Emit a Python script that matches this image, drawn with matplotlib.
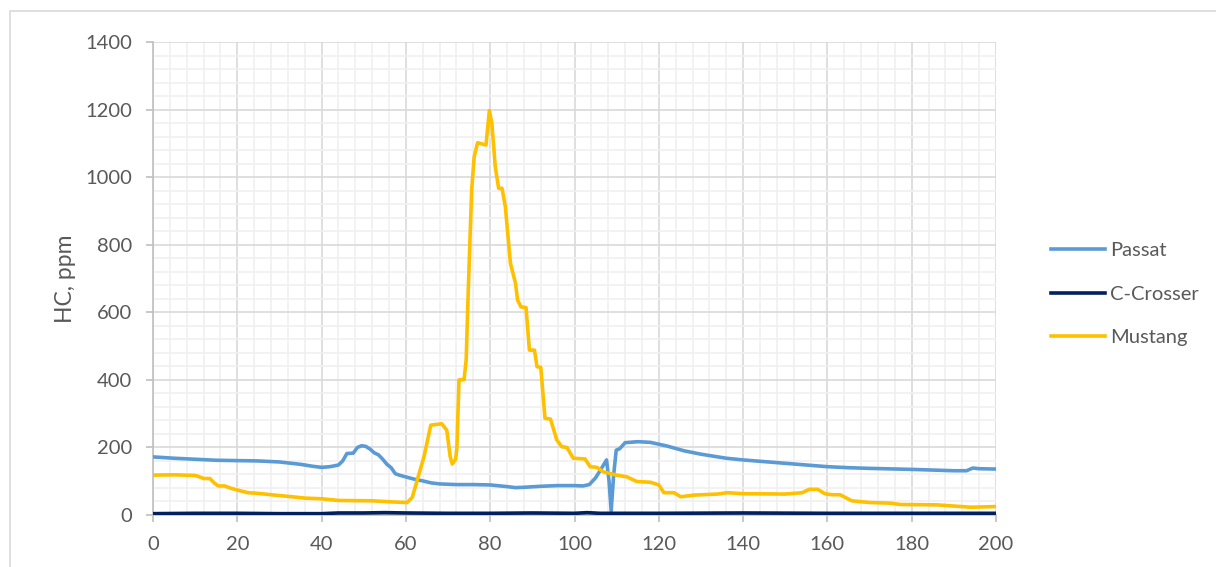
import matplotlib
matplotlib.use('Agg')
import matplotlib.pyplot as plt
from matplotlib.patches import Rectangle
from matplotlib.ticker import MultipleLocator

# values
passat_x = [0, 5, 10, 15, 20, 25, 30, 35, 38, 40, 42, 44, 45, 46, 47.5, 48.5, 49.5, 50.5,
            51.5, 52.5, 53.5, 54.5, 55.5, 56.5, 57.5, 59, 60.5, 62, 64, 66, 68, 72, 76, 80,
            84, 86, 88, 92, 96, 100, 102, 103.5, 105, 106.5, 107.6, 108.2, 108.7, 109.3,
            109.9, 110.7, 112, 115, 118, 122, 126, 130, 136, 140, 145, 150, 155, 160, 165,
            170, 180, 190, 193, 194.5, 196, 200]
passat_y = [172, 168, 165, 162, 161, 160, 157, 150, 144, 141, 143, 148, 160, 182, 183, 200,
            205, 203, 195, 184, 178, 165, 150, 140, 122, 116, 111, 106, 101, 95, 92, 90, 90,
            89, 84, 81, 82, 85, 87, 87, 86, 90, 110, 140, 163, 100, 12, 120, 192, 196, 214,
            217, 215, 204, 190, 180, 168, 163, 158, 153, 148, 143, 140, 138, 135, 131, 131,
            139, 137, 136]

crosser_x = [0, 10, 20, 30, 40, 44, 50, 55, 60, 70, 80, 90, 100, 103, 106, 120, 140, 160,
             180, 200]
crosser_y = [4, 5, 5, 4, 4, 6, 6, 7, 6, 5, 5, 6, 5, 7, 5, 5, 6, 5, 5, 5]

mustang_x = [0, 5, 10, 11, 12, 13.5, 14.5, 15.5, 17, 18.5, 20, 22.5, 25, 28, 33, 36, 40, 44,
             52, 58, 60.3, 61.5, 62.7, 64.3, 65.9, 68.5, 69.7, 70.5, 71, 71.8, 72.1, 72.6,
             73.8, 74.3, 74.8, 75.6, 76.2, 77, 79, 79.8, 80.4, 81.2, 82, 82.8, 83.6, 84.8,
             86, 86.5, 87.3, 88.5, 89.3, 90.5, 91.1, 92, 93, 94.3, 95.8, 97, 98.2, 99.7,
             102.5, 103.7, 105.3, 106.8, 110, 112.4, 114.8, 118, 120, 121.2, 123.6, 125.2,
             128.4, 134, 136.3, 140, 150, 154, 155.7, 157.7, 159.4, 161, 163, 165.8, 170,
             175, 177.4, 186, 194, 200]
mustang_y = [118, 119, 117, 113, 108, 108, 95, 86, 86, 79, 74, 66, 64, 60, 54, 50, 48, 43,
             42, 38, 37, 52, 104, 173, 266, 270, 251, 173, 151, 165, 200, 400, 401, 459, 666,
             962, 1060, 1102, 1095, 1197, 1159, 1031, 967, 967, 912, 745, 686, 636, 616, 614,
             488, 488, 439, 437, 286, 284, 222, 202, 200, 168, 166, 143, 141, 128, 118, 113,
             99, 97, 89, 66, 66, 54, 59, 62, 66, 63, 62, 66, 76, 76, 63, 60, 60, 42, 37, 35,
             31, 30, 23, 25]

x_ticks = list(range(0, 201, 20))
y_ticks = list(range(0, 1401, 200))

plt.rcParams['font.family'] = ['Lato', 'DejaVu Sans']
txt_color = '#595959'

fig = plt.figure(figsize=(12.16, 5.67), dpi=100)
ax = fig.add_axes([153 / 1216, 1 - 515 / 567, 843 / 1216, 473 / 567])

ax.plot(passat_x, passat_y, color='#5B9BD5', lw=2.6, label='Passat', zorder=3)
ax.plot(crosser_x, crosser_y, color='#002060', lw=2.6, label='C-Crosser', zorder=3)
ax.plot(mustang_x, mustang_y, color='#FFC000', lw=2.6, label='Mustang', zorder=3)

ax.set_xlim(0, 200)
ax.set_ylim(0, 1400)
ax.set_xticks(x_ticks)
ax.set_yticks(y_ticks)
ax.xaxis.set_minor_locator(MultipleLocator(4))
ax.yaxis.set_minor_locator(MultipleLocator(40))
ax.grid(which='major', color='#D9D9D9', lw=1.2, zorder=1)
ax.grid(which='minor', color='#F0F0F0', lw=1.2, zorder=0)
ax.set_axisbelow(True)

for s in ['top', 'right']:
    ax.spines[s].set_visible(False)
for s in ['left', 'bottom']:
    ax.spines[s].set_color('#BFBFBF')
    ax.spines[s].set_linewidth(1.2)

ax.tick_params(which='major', length=5, width=1.2, color='#BFBFBF',
               labelsize=14.5, labelcolor=txt_color, pad=10)
ax.tick_params(which='minor', length=0)

ax.set_ylabel('HC, ppm', fontsize=16.5, color=txt_color)
ax.yaxis.set_label_coords(-0.091, 0.5)

fig.legend(loc='center left', bbox_to_anchor=(1051 / 1216, 1 - 294 / 567),
           frameon=False, fontsize=14.5, labelcolor=txt_color, borderaxespad=0,
           borderpad=0, handlelength=2.7, handletextpad=0.25, labelspacing=1.3)

fig.patches.append(Rectangle((10 / 1216, -0.1), 1.2, 1 - 11 / 567 + 0.1,
                             transform=fig.transFigure, fill=False,
                             edgecolor='#D9D9D9', lw=1.2))

fig.savefig('out.png', dpi=100)
